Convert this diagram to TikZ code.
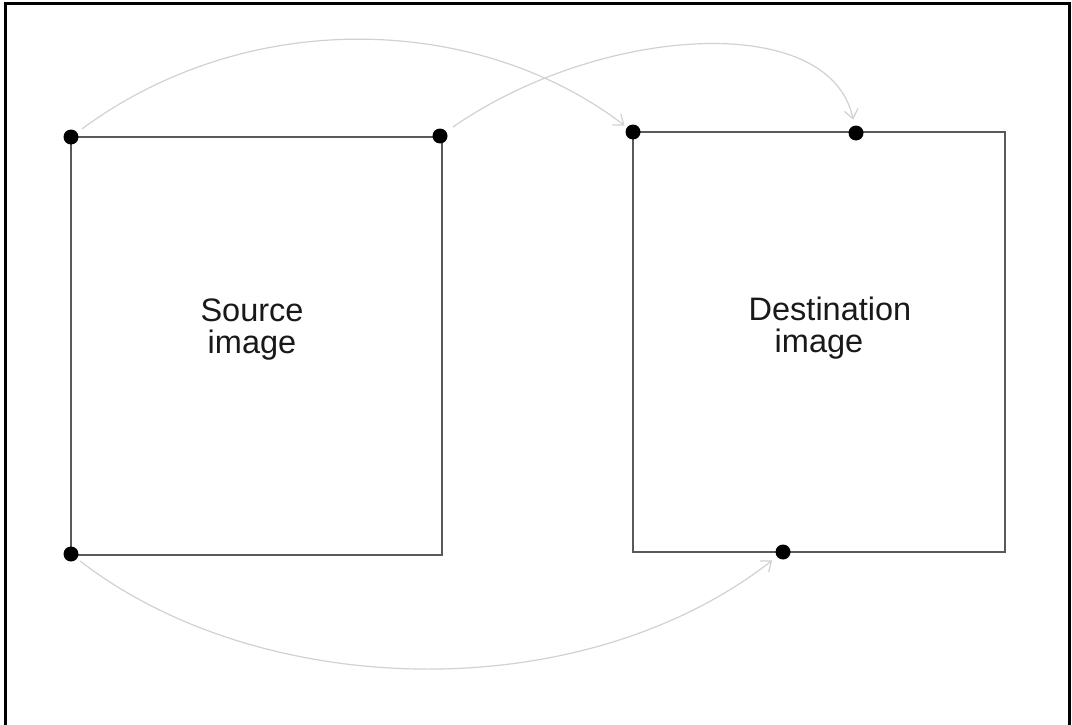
\documentclass[tikz,border=0pt]{standalone}
\usepackage{fontspec}
\setmainfont{Liberation Sans}
\usetikzlibrary{arrows.meta}
\begin{document}
\begin{tikzpicture}[x=1pt,y=-1pt,
  frame/.style={line width=3pt,black},
  imgbox/.style={line width=1.8pt,black!65},
  pt/.style={circle,fill=black,inner sep=0pt,minimum size=15pt},
  lbl/.style={font=\fontsize{32.5}{32}\selectfont,align=center,text=black!90},
  flow/.style={line width=1.2pt,black!18,-{Straight Barb[length=9pt,width=14pt,line width=1.2pt]}}
]
\useasboundingbox (0,0) rectangle (1072,725);
% outer frame (no bottom edge)
\draw[frame] (5,725) -- (5,4) -- (1069,4) -- (1069,725);
% source image
\draw[imgbox] (71,137) rectangle (442,555);
\node[lbl] (src) at (252,330) {Source\\image};
% destination image
\draw[imgbox] (633,132) rectangle (1005,552);
\node[lbl] (dst) at (830,328) {Destination\\\hspace*{-22pt}image};
% points
\node[pt] (s1) at (71,137) {};
\node[pt] (s2) at (440,136) {};
\node[pt] (s3) at (71,554) {};
\node[pt] (d1) at (633,132) {};
\node[pt] (d2) at (856,133) {};
\node[pt] (d3) at (783,552) {};
% mappings
\draw[flow, shorten <=6pt, shorten >=3pt] (s1) .. controls (250,5) and (480,15) .. (d1);
\draw[flow, shorten <=8pt, shorten >=6pt] (s2) .. controls (600,25) and (830,10) .. (d2);
\draw[flow, shorten <=4pt, shorten >=6pt] (s3) .. controls (260,700) and (580,710) .. (d3);
\end{tikzpicture}
\end{document}
